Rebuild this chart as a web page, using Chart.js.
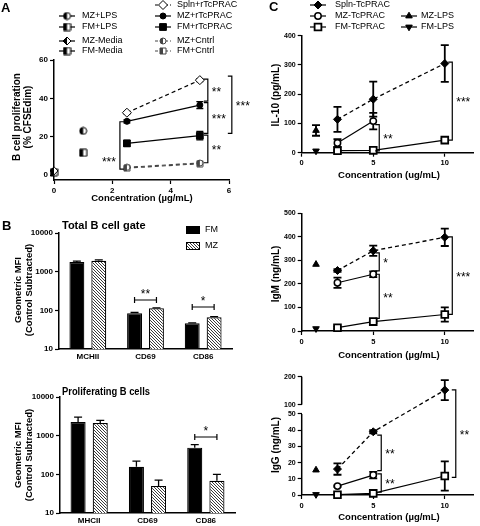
<!DOCTYPE html>
<html>
<head>
<meta charset="utf-8">
<script src="https://cdn.jsdelivr.net/npm/chart.js@4.4.0/dist/chart.umd.min.js"></script>
<style>
  html, body { margin: 0; padding: 0; background: #fff; }
  #fig { position: relative; width: 480px; height: 526px; overflow: hidden; }
  #fig canvas { position: absolute; }
</style>
</head>
<body>
<div id="fig">
  <canvas id="cA"  width="255" height="215" style="left:0;top:0;width:255px;height:215px"></canvas>
  <canvas id="cB1" width="240" height="155" style="left:0;top:215px;width:240px;height:155px"></canvas>
  <canvas id="cB2" width="240" height="151" style="left:0;top:375px;width:240px;height:151px"></canvas>
  <canvas id="cC1" width="230" height="185" style="left:250px;top:0;width:230px;height:185px"></canvas>
  <canvas id="cC2" width="230" height="175" style="left:250px;top:190px;width:230px;height:175px"></canvas>
  <canvas id="cC3" width="230" height="161" style="left:250px;top:365px;width:230px;height:161px"></canvas>
</div>
<script>
// ---- fonts ----
const FONT = '"Liberation Sans", Arial, sans-serif';

// ---- Panel A: B cell proliferation (% CFSEdim) ----
const A_CONC       = [2.5, 5];
const A_SPLN_R     = [32.5, 49.5];
const A_SPLN_R_SD  = [0.6, 0.8];
const A_MZ_R       = [28, 36.5];
const A_MZ_R_SD    = [0.8, 1.8];
const A_FM_R       = [16.5, 20.5];
const A_FM_R_SD    = [1.6, 2.2];
const A_MZ_CNTRL   = [4, 6.3];
const A_FM_CNTRL   = [3.6, 5.9];
const A_LPS_CONC   = [1];
const A_MZ_LPS     = [23];
const A_FM_LPS     = [11.6];
const A_MEDIA_CONC = [0];
const A_MZ_MEDIA   = [2.2];
const A_FM_MEDIA   = [1.5];
const A_X_TICKS    = [0, 2, 4, 6];
const A_Y_TICKS    = [0, 20, 40, 60];

// ---- Panel B: geometric MFI ----
const B_CATS_TOP   = ["MCHII", "CD69", "CD86"];
const B_FM_TOP     = [1780, 84, 46];
const B_FM_TOP_SD  = [90, 4, 1.5];
const B_MZ_TOP     = [1920, 113, 66];
const B_MZ_TOP_SD  = [110, 3, 3];
const B_CATS_BOT   = ["MHCII", "CD69", "CD86"];
const B_FM_BOT     = [2250, 156, 490];
const B_FM_BOT_SD  = [750, 63, 95];
const B_MZ_BOT     = [2130, 50, 68];
const B_MZ_BOT_SD  = [370, 21, 32];
const B_Y_TICKS    = [10, 100, 1000, 10000];

// ---- Panel C: IL-10 / IgM / IgG ----
const C_CONC       = [2.5, 5, 10];
const C_MZ_CONC    = [2.5, 5];
const C_LPS_CONC   = [1];
const C_X_TICKS    = [0, 5, 10];

const IL10_SPLN    = [114, 183, 305];
const IL10_SPLN_SD = [43, 60, 63];
const IL10_MZ      = [33, 108];
const IL10_MZ_SD   = [13, 28];
const IL10_FM      = [7, 8, 43];
const IL10_FM_SD   = [2, 2, 5];
const IL10_MZ_LPS  = [76];
const IL10_MZ_LPS_SD = [18];
const IL10_FM_LPS  = [6];
const IL10_Y_TICKS = [0, 100, 200, 300, 400];

const IGM_SPLN     = [257, 341, 398];
const IGM_SPLN_SD  = [6, 22, 37];
const IGM_MZ       = [205, 241];
const IGM_MZ_SD    = [22, 12];
const IGM_FM       = [14, 40, 70];
const IGM_FM_SD    = [5, 6, 30];
const IGM_MZ_LPS   = [283];
const IGM_FM_LPS   = [10];
const IGM_Y_TICKS  = [0, 100, 200, 300, 400, 500];

const IGG_SPLN     = [16, 39, 152];
const IGG_SPLN_SD  = [3.5, 1, 36];
const IGG_MZ       = [5.5, 12.3];
const IGG_MZ_SD    = [0.5, 2];
const IGG_FM       = [0.2, 1, 11.7];
const IGG_FM_SD    = [0.2, 0.5, 9];
const IGG_MZ_LPS   = [15.4];
const IGG_FM_LPS   = [0.3];
const IGG_Y_TICKS  = [0, 10, 20, 30, 40, 50, 100, 200];

// ---- IgG axis break (fractions of the plot height) ----
const BREAK = { lowMax: 50, highMin: 100, top: 200, lowFrac: 0.685, highFrac: 0.764 };

function brokenFrac(v) {
  if (v <= BREAK.lowMax) return v / BREAK.lowMax * BREAK.lowFrac;
  if (v >= BREAK.highMin) return BREAK.highFrac + (v - BREAK.highMin) / (BREAK.top - BREAK.highMin) * (1 - BREAK.highFrac);
  return BREAK.lowFrac + (v - BREAK.lowMax) / (BREAK.highMin - BREAK.lowMax) * (BREAK.highFrac - BREAK.lowFrac);
}
function brokenInv(f) {
  if (f <= BREAK.lowFrac) return f / BREAK.lowFrac * BREAK.lowMax;
  if (f >= BREAK.highFrac) return BREAK.highMin + (f - BREAK.highFrac) / (1 - BREAK.highFrac) * (BREAK.top - BREAK.highMin);
  return BREAK.lowMax + (f - BREAK.lowFrac) / (BREAK.highFrac - BREAK.lowFrac) * (BREAK.highMin - BREAK.lowMax);
}

// linear scale with a gap between 50 and 100
class BrokenScale extends Chart.LinearScale {
  getPixelForValue(v) { return this.bottom - brokenFrac(v) * (this.bottom - this.top); }
  getValueForPixel(p) { return brokenInv((this.bottom - p) / (this.bottom - this.top)); }
}
BrokenScale.id = "brokenLinear";
BrokenScale.defaults = Chart.LinearScale.defaults;
Chart.register(BrokenScale);

// ---- marker helpers ----
function halfImg(shape, size, color) {
  const c = document.createElement("canvas");
  c.width = c.height = size + 2;
  const g = c.getContext("2d");
  const m = (size + 2) / 2, h = size / 2;
  const path = () => {
    g.beginPath();
    if (shape === "circle") g.arc(m, m, h, 0, Math.PI * 2);
    else if (shape === "diamond") { g.moveTo(m, m - h); g.lineTo(m + h, m); g.lineTo(m, m + h); g.lineTo(m - h, m); g.closePath(); }
    else g.rect(m - h, m - h, size, size);
  };
  path(); g.fillStyle = "#fff"; g.fill();
  g.save(); g.beginPath(); g.rect(0, 0, m, size + 2); g.clip();
  path(); g.fillStyle = color; g.fill(); g.restore();
  path(); g.strokeStyle = color; g.lineWidth = 1; g.stroke();
  return c;
}

function hatch() {
  const c = document.createElement("canvas");
  c.width = c.height = 3;
  const g = c.getContext("2d");
  g.fillStyle = "#fff"; g.fillRect(0, 0, 3, 3);
  g.fillStyle = "#3a3a3a";
  for (let i = 0; i < 3; i++) g.fillRect(i, i, 1, 1);
  return g.createPattern(c, "repeat");
}
const HATCH = hatch();

const MK = {
  A_SPLN:   { style: "rectRot", r: 4.5, fill: "#fff", stroke: "#000", lw: 1 },
  A_MZ_R:   { style: "circle", r: 3, fill: "#000", stroke: "#000", lw: 1 },
  A_FM_R:   { style: "rect", r: 4.8, fill: "#000", stroke: "#000", lw: 1 },
  A_MZ_C:   { img: halfImg("circle", 6, "#444"), r: 4 },
  A_FM_C:   { img: halfImg("rect", 6, "#444"), r: 4 },
  A_MZ_L:   { img: halfImg("circle", 7, "#000"), r: 4 },
  A_FM_L:   { img: halfImg("rect", 7, "#000"), r: 4 },
  A_MZ_M:   { img: halfImg("diamond", 8, "#000"), r: 4 },
  A_FM_M:   { img: halfImg("rect", 7, "#000"), r: 4 },
  C_SPLN:   { style: "rectRot", r: 4, fill: "#000", stroke: "#000", lw: 1 },
  C_MZ:     { style: "circle", r: 3.2, fill: "#fff", stroke: "#000", lw: 1.5 },
  C_FM:     { style: "rect", r: 4.8, fill: "#fff", stroke: "#000", lw: 1.8 },
  C_MZ_LPS: { style: "triangle", r: 3.8, fill: "#000", stroke: "#000", lw: 1 },
  C_FM_LPS: { style: "triangle", r: 3.8, rot: 180, fill: "#000", stroke: "#000", lw: 1 }
};

function markerProps(m) {
  return {
    pointStyle: m.img || m.style, pointRadius: m.r, pointHoverRadius: m.r,
    pointBackgroundColor: m.fill || "#000", pointBorderColor: m.stroke || "#000",
    pointBorderWidth: m.lw || 1, pointRotation: m.rot || 0
  };
}

// same shapes as Chart.js, for the legends
function drawMarker(ctx, m, x, y) {
  if (m.img) { ctx.drawImage(m.img, x - m.img.width / 2, y - m.img.height / 2); return; }
  const r = m.r;
  ctx.save();
  ctx.fillStyle = m.fill; ctx.strokeStyle = m.stroke; ctx.lineWidth = m.lw;
  ctx.beginPath();
  if (m.style === "circle") ctx.arc(x, y, r, 0, Math.PI * 2);
  else if (m.style === "rect") { const s = Math.SQRT1_2 * r; ctx.rect(x - s, y - s, 2 * s, 2 * s); }
  else if (m.style === "rectRot") { ctx.moveTo(x - r, y); ctx.lineTo(x, y - r); ctx.lineTo(x + r, y); ctx.lineTo(x, y + r); ctx.closePath(); }
  else if (m.style === "triangle") {
    let a = (m.rot || 0) * Math.PI / 180;
    ctx.moveTo(x + Math.sin(a) * r, y - Math.cos(a) * r);
    a += 2 * Math.PI / 3; ctx.lineTo(x + Math.sin(a) * r, y - Math.cos(a) * r);
    a += 2 * Math.PI / 3; ctx.lineTo(x + Math.sin(a) * r, y - Math.cos(a) * r);
    ctx.closePath();
  }
  ctx.fill(); ctx.stroke();
  ctx.restore();
}

// ---- dataset builders ----
function series(xs, ys, sd, mk, o = {}) {
  return {
    data: xs.map((x, i) => ({ x: x, y: ys[i] })),
    sd: sd, sdWidth: o.sdWidth || 1.3, sdCap: o.sdCap || 3.5,
    borderColor: o.color || "#000", borderWidth: o.lw || 1.2, borderDash: o.dash || [],
    showLine: true, fill: false, tension: 0, clip: false,
    ...markerProps(mk)
  };
}
function bars(vals, sd, fill) {
  return {
    data: vals, sd: sd, sdUp: true, sdWidth: 1.3, sdCap: 4,
    backgroundColor: fill, borderColor: "#000", borderWidth: 1.2,
    categoryPercentage: 0.76, barPercentage: 0.68
  };
}

// ---- axes ----
const tickFont = (s) => ({ family: FONT, size: s, weight: "bold" });
function yAxis(o) {
  return {
    type: o.type || "linear", min: o.min, max: o.max,
    border: { display: o.border !== false, color: "#000", width: 1.5 },
    grid: { display: true, drawOnChartArea: false, drawTicks: true, tickLength: 4, tickColor: "#000", tickWidth: 1.2 },
    ticks: { color: "#000", padding: 2, autoSkip: false, font: tickFont(o.fs || 8), callback: v => String(v) },
    afterBuildTicks: s => { s.ticks = o.ticks.map(v => ({ value: v })); },
    afterFit: s => { s.width = o.w; }
  };
}
function xLinear(o) {
  return {
    type: "linear", min: o.min, max: o.max,
    border: { color: "#000", width: 1.5 },
    grid: { display: true, drawOnChartArea: false, drawTicks: true, tickLength: 4, tickColor: "#000", tickWidth: 1.2 },
    ticks: { color: "#000", padding: 2, autoSkip: false, maxRotation: 0, font: tickFont(o.fs || 8), callback: v => String(v) },
    afterBuildTicks: s => { s.ticks = o.ticks.map(v => ({ value: v })); },
    afterFit: s => { s.height = o.h; }
  };
}
function xCategory(h) {
  return {
    type: "category", offset: true,
    border: { color: "#000", width: 1.5 },
    grid: { display: false, drawTicks: false, tickLength: 0 },
    ticks: { color: "#000", padding: 3, maxRotation: 0, font: tickFont(8) },
    afterFit: s => { s.height = h; }
  };
}

// ---- error bars plugin ----
const errorBars = {
  id: "errorBars",
  beforeDatasetsDraw(chart) {
    const ctx = chart.ctx;
    chart.data.datasets.forEach((ds, i) => {
      if (!ds.sd) return;
      const meta = chart.getDatasetMeta(i);
      const ys = chart.scales[meta.yAxisID];
      ctx.save();
      ctx.strokeStyle = "#000"; ctx.lineWidth = ds.sdWidth;
      meta.data.forEach((el, j) => {
        const sd = ds.sd[j];
        if (!sd) return;
        const v = meta.controller.getParsed(j).y;
        const top = ys.getPixelForValue(v + sd);
        const bot = ds.sdUp ? ys.getPixelForValue(v) : ys.getPixelForValue(v - sd);
        const x = el.x, w = ds.sdCap;
        ctx.beginPath();
        ctx.moveTo(x, bot); ctx.lineTo(x, top);
        ctx.moveTo(x - w, top); ctx.lineTo(x + w, top);
        if (!ds.sdUp) { ctx.moveTo(x - w, bot); ctx.lineTo(x + w, bot); }
        ctx.stroke();
      });
      ctx.restore();
    });
  }
};

// ---- decoration plugin: labels, legends, significance brackets ----
function drawText(ctx, t) {
  ctx.save();
  ctx.font = t.font; ctx.fillStyle = "#000";
  ctx.textAlign = t.align || "left"; ctx.textBaseline = "middle";
  ctx.translate(t.x, t.y);
  if (t.rot) ctx.rotate(t.rot);
  if (t.maxW) ctx.fillText(t.text, 0, 0, t.maxW); else ctx.fillText(t.text, 0, 0);
  ctx.restore();
}
function makeDecor(cfg) {
  return {
    id: "decor",
    afterDraw(chart) {
      const ctx = chart.ctx;
      const xs = chart.scales.x, ys = chart.scales.y;
      (cfg.texts || []).forEach(t => drawText(ctx, t));

      (cfg.legend || []).forEach(it => {
        if (it.line) {
          ctx.save();
          ctx.strokeStyle = it.line.color || "#000"; ctx.lineWidth = 1.2;
          ctx.setLineDash(it.line.dash || []);
          ctx.beginPath(); ctx.moveTo(it.x - 8, it.y); ctx.lineTo(it.x + 8, it.y); ctx.stroke();
          ctx.restore();
        }
        if (it.mk) drawMarker(ctx, it.mk, it.x, it.y);
        if (it.box) {
          ctx.save();
          ctx.fillStyle = it.box; ctx.fillRect(it.x - 6.5, it.y - 3.5, 13, 7);
          ctx.strokeStyle = "#000"; ctx.lineWidth = 1; ctx.strokeRect(it.x - 6.5, it.y - 3.5, 13, 7);
          ctx.restore();
        }
        drawText(ctx, { text: it.text, x: it.tx, y: it.y, font: "9px " + FONT });
      });

      ctx.save();
      ctx.strokeStyle = "#000"; ctx.fillStyle = "#000"; ctx.lineWidth = 1.2;
      ctx.font = "12px " + FONT; ctx.textBaseline = "middle";
      (cfg.vBrackets || []).forEach(b => {
        const bx = xs.getPixelForValue(b.x) + b.dx;
        const y1 = ys.getPixelForValue(b.y1), y2 = ys.getPixelForValue(b.y2);
        const d = b.dir * 4;
        ctx.beginPath();
        ctx.moveTo(bx + d, y1); ctx.lineTo(bx, y1); ctx.lineTo(bx, y2); ctx.lineTo(bx + d, y2);
        ctx.stroke();
        const ly = b.ly !== undefined ? ys.getPixelForValue(b.ly) : (y1 + y2) / 2;
        ctx.textAlign = b.dir < 0 ? "left" : "right";
        ctx.fillText(b.label, bx - b.dir * 4, ly + 2);
      });
      (cfg.hBrackets || []).forEach(b => {
        const xa = chart.getDatasetMeta(0).data[b.cat].x;
        const xb = chart.getDatasetMeta(1).data[b.cat].x;
        const py = ys.getPixelForValue(b.y);
        ctx.beginPath();
        ctx.moveTo(xa, py); ctx.lineTo(xb, py);
        ctx.moveTo(xa, py - 3); ctx.lineTo(xa, py + 3);
        ctx.moveTo(xb, py - 3); ctx.lineTo(xb, py + 3);
        ctx.stroke();
        ctx.textAlign = "center";
        ctx.fillText(b.label, (xa + xb) / 2, py - 5);
      });
      if (cfg.brokenAxis) {
        ctx.lineWidth = 1.5;
        cfg.brokenAxis.forEach(seg => {
          ctx.beginPath();
          ctx.moveTo(chart.chartArea.left, ys.getPixelForValue(seg[0]));
          ctx.lineTo(chart.chartArea.left, ys.getPixelForValue(seg[1]));
          ctx.stroke();
        });
      }
      ctx.restore();
    }
  };
}

function baseOptions(pad) {
  return {
    responsive: false, animation: false, events: [],
    layout: { padding: pad },
    plugins: { legend: { display: false }, tooltip: { enabled: false } }
  };
}

const ROT = -Math.PI / 2;
const T_BIG = "bold 13px " + FONT;
const T_AX = "bold 10px " + FONT;
const T_AXX = "bold 9.5px " + FONT;

// ================= Panel A =================
new Chart(document.getElementById("cA"), {
  type: "line",
  data: {
    datasets: [
      series(A_CONC, A_SPLN_R, A_SPLN_R_SD, MK.A_SPLN, { dash: [4, 3] }),
      series(A_CONC, A_MZ_R, A_MZ_R_SD, MK.A_MZ_R),
      series(A_CONC, A_FM_R, A_FM_R_SD, MK.A_FM_R),
      series(A_CONC, A_MZ_CNTRL, null, MK.A_MZ_C, { dash: [4, 3], color: "#444" }),
      series(A_CONC, A_FM_CNTRL, null, MK.A_FM_C, { dash: [4, 3], color: "#444" }),
      series(A_LPS_CONC, A_MZ_LPS, null, MK.A_MZ_L),
      series(A_LPS_CONC, A_FM_LPS, null, MK.A_FM_L),
      series(A_MEDIA_CONC, A_MZ_MEDIA, null, MK.A_MZ_M),
      series(A_MEDIA_CONC, A_FM_MEDIA, null, MK.A_FM_M)
    ]
  },
  options: {
    ...baseOptions({ left: 0, top: 60, right: 26, bottom: 0 }),
    scales: {
      x: xLinear({ min: 0, max: 6, ticks: A_X_TICKS, h: 35 }),
      y: yAxis({ min: -2.6, max: 60, ticks: A_Y_TICKS, w: 54 })
    }
  },
  plugins: [errorBars, makeDecor({
    texts: [
      { text: "A", x: 1, y: 8, font: T_BIG },
      { text: "B cell proliferation", x: 17, y: 117, rot: ROT, align: "center", font: T_AX },
      { text: "(% CFSEdim)", x: 28, y: 117, rot: ROT, align: "center", font: T_AX },
      { text: "Concentration (\u00b5g/mL)", x: 142, y: 198, align: "center", font: T_AXX }
    ],
    legend: [
      { x: 67, y: 16, tx: 82, text: "MZ+LPS", mk: MK.A_MZ_L, line: {} },
      { x: 67, y: 27, tx: 82, text: "FM+LPS", mk: MK.A_FM_L, line: {} },
      { x: 67, y: 41, tx: 82, text: "MZ-Media", mk: MK.A_MZ_M, line: {} },
      { x: 67, y: 51, tx: 82, text: "FM-Media", mk: MK.A_FM_M, line: {} },
      { x: 163, y: 5, tx: 177, text: "Spln+rTcPRAC", mk: MK.A_SPLN, line: { dash: [3, 2] } },
      { x: 163, y: 16, tx: 177, text: "MZ+rTcPRAC", mk: MK.A_MZ_R, line: {} },
      { x: 163, y: 27, tx: 177, text: "FM+rTcPRAC", mk: MK.A_FM_R, line: {} },
      { x: 163, y: 41, tx: 177, text: "MZ+Cntrl", mk: MK.A_MZ_C, line: { dash: [3, 2], color: "#444" } },
      { x: 163, y: 51, tx: 177, text: "FM+Cntrl", mk: MK.A_FM_C, line: { dash: [3, 2], color: "#444" } }
    ],
    vBrackets: [
      { x: 5, dx: 8, y1: 50, y2: 38.5, label: "**", dir: -1 },
      { x: 5, dx: 8, y1: 37.8, y2: 21.7, label: "***", dir: -1 },
      { x: 5, dx: 8, y1: 20.8, y2: 6.4, label: "**", dir: -1 },
      { x: 5, dx: 32, y1: 51.6, y2: 21.7, label: "***", dir: -1 },
      { x: 2.5, dx: -7, y1: 27.8, y2: 3.1, label: "***", dir: 1, ly: 7.3 }
    ]
  })]
});

// ================= Panel B (top) =================
new Chart(document.getElementById("cB1"), {
  type: "bar",
  data: {
    labels: B_CATS_TOP,
    datasets: [bars(B_FM_TOP, B_FM_TOP_SD, "#000"), bars(B_MZ_TOP, B_MZ_TOP_SD, HATCH)]
  },
  options: {
    ...baseOptions({ left: 0, top: 18, right: 8, bottom: 0 }),
    scales: {
      x: xCategory(21),
      y: yAxis({ type: "logarithmic", min: 10, max: 10000, ticks: B_Y_TICKS, w: 59 })
    }
  },
  plugins: [errorBars, makeDecor({
    texts: [
      { text: "B", x: 2, y: 11, font: T_BIG },
      { text: "Total B cell gate", x: 62, y: 11, font: "bold 11px " + FONT },
      { text: "Geometric MFI", x: 18, y: 75, rot: ROT, align: "center", font: "bold 9.5px " + FONT },
      { text: "(Control Subtracted)", x: 29, y: 75, rot: ROT, align: "center", font: "bold 9.5px " + FONT }
    ],
    legend: [
      { x: 193, y: 15, tx: 205, text: "FM", box: "#000" },
      { x: 193, y: 31, tx: 205, text: "MZ", box: HATCH }
    ],
    hBrackets: [
      { cat: 1, y: 185, label: "**" },
      { cat: 2, y: 122, label: "*" }
    ]
  })]
});

// ================= Panel B (bottom) =================
new Chart(document.getElementById("cB2"), {
  type: "bar",
  data: {
    labels: B_CATS_BOT,
    datasets: [bars(B_FM_BOT, B_FM_BOT_SD, "#000"), bars(B_MZ_BOT, B_MZ_BOT_SD, HATCH)]
  },
  options: {
    ...baseOptions({ left: 0, top: 22, right: 5, bottom: 0 }),
    scales: {
      x: xCategory(13),
      y: yAxis({ type: "logarithmic", min: 10, max: 10000, ticks: B_Y_TICKS, w: 60 })
    }
  },
  plugins: [errorBars, makeDecor({
    texts: [
      { text: "Proliferating B cells", x: 62, y: 17, font: "bold 11px " + FONT, maxW: 88 },
      { text: "Geometric MFI", x: 18, y: 80, rot: ROT, align: "center", font: "bold 9.5px " + FONT },
      { text: "(Control Subtracted)", x: 29, y: 80, rot: ROT, align: "center", font: "bold 9.5px " + FONT }
    ],
    hBrackets: [{ cat: 2, y: 925, label: "*" }]
  })]
});

// ================= Panel C =================
const cOpt = { sdWidth: 1.8, sdCap: 4 };
function cDatasets(spln, splnSd, mz, mzSd, fm, fmSd, mzL, mzLSd, fmL) {
  return [
    series(C_CONC, spln, splnSd, MK.C_SPLN, { ...cOpt, dash: [4, 3], lw: 1.3 }),
    series(C_MZ_CONC, mz, mzSd, MK.C_MZ, cOpt),
    series(C_CONC, fm, fmSd, MK.C_FM, cOpt),
    series(C_LPS_CONC, mzL, mzLSd, MK.C_MZ_LPS, cOpt),
    series(C_LPS_CONC, fmL, null, MK.C_FM_LPS, cOpt)
  ];
}

new Chart(document.getElementById("cC1"), {
  type: "line",
  data: { datasets: cDatasets(IL10_SPLN, IL10_SPLN_SD, IL10_MZ, IL10_MZ_SD, IL10_FM, IL10_FM_SD, IL10_MZ_LPS, IL10_MZ_LPS_SD, IL10_FM_LPS) },
  options: {
    ...baseOptions({ left: 0, top: 35.7, right: 2.4, bottom: 0 }),
    scales: {
      x: xLinear({ min: 0, max: 12, ticks: C_X_TICKS, h: 32.3, fs: 7.5 }),
      y: yAxis({ min: 0, max: 400, ticks: IL10_Y_TICKS, w: 51.7, fs: 7 })
    }
  },
  plugins: [errorBars, makeDecor({
    texts: [
      { text: "C", x: 19, y: 7, font: T_BIG },
      { text: "IL-10 (pg/mL)", x: 26, y: 95, rot: ROT, align: "center", font: T_AX },
      { text: "Concentration (ug/mL)", x: 139, y: 175, align: "center", font: T_AXX }
    ],
    legend: [
      { x: 68, y: 5, tx: 85, text: "Spln-TcPRAC", mk: MK.C_SPLN, line: {} },
      { x: 68, y: 16, tx: 85, text: "MZ-TcPRAC", mk: MK.C_MZ, line: {} },
      { x: 68, y: 27, tx: 85, text: "FM-TcPRAC", mk: MK.C_FM, line: {} },
      { x: 159, y: 16, tx: 171, text: "MZ-LPS", mk: MK.C_MZ_LPS, line: {} },
      { x: 159, y: 27, tx: 171, text: "FM-LPS", mk: MK.C_FM_LPS, line: {} }
    ],
    vBrackets: [
      { x: 5, dx: 6, y1: 96, y2: 6, label: "**", dir: -1 },
      { x: 10, dx: 7.5, y1: 310, y2: 43, label: "***", dir: -1 }
    ]
  })]
});

new Chart(document.getElementById("cC2"), {
  type: "line",
  data: { datasets: cDatasets(IGM_SPLN, IGM_SPLN_SD, IGM_MZ, IGM_MZ_SD, IGM_FM, IGM_FM_SD, IGM_MZ_LPS, null, IGM_FM_LPS) },
  options: {
    ...baseOptions({ left: 0, top: 23.3, right: 2.4, bottom: 0 }),
    scales: {
      x: xLinear({ min: 0, max: 12, ticks: C_X_TICKS, h: 34, fs: 7.5 }),
      y: yAxis({ min: 0, max: 500, ticks: IGM_Y_TICKS, w: 51.7, fs: 7 })
    }
  },
  plugins: [errorBars, makeDecor({
    texts: [
      { text: "IgM (ng/mL)", x: 26, y: 84, rot: ROT, align: "center", font: T_AX },
      { text: "Concentration (\u00b5g/mL)", x: 139, y: 165, align: "center", font: T_AXX }
    ],
    vBrackets: [
      { x: 5, dx: 6, y1: 332, y2: 255, label: "*", dir: -1 },
      { x: 5, dx: 6, y1: 241, y2: 54, label: "**", dir: -1 },
      { x: 10, dx: 7.5, y1: 400, y2: 71, label: "***", dir: -1 }
    ]
  })]
});

new Chart(document.getElementById("cC3"), {
  type: "line",
  data: { datasets: cDatasets(IGG_SPLN, IGG_SPLN_SD, IGG_MZ, IGG_MZ_SD, IGG_FM, IGG_FM_SD, IGG_MZ_LPS, null, IGG_FM_LPS) },
  options: {
    ...baseOptions({ left: 0, top: 11.7, right: 2.4, bottom: 0 }),
    scales: {
      x: xLinear({ min: 0, max: 12, ticks: C_X_TICKS, h: 31, fs: 7.5 }),
      y: yAxis({ type: "brokenLinear", min: 0, max: 200, ticks: IGG_Y_TICKS, w: 51.7, fs: 7, border: false })
    }
  },
  plugins: [errorBars, makeDecor({
    texts: [
      { text: "IgG (ng/mL)", x: 26, y: 80, rot: ROT, align: "center", font: T_AX },
      { text: "Concentration (\u00b5g/mL)", x: 139, y: 152, align: "center", font: T_AXX }
    ],
    vBrackets: [
      { x: 5, dx: 8, y1: 37, y2: 15, label: "**", dir: -1 },
      { x: 5, dx: 8, y1: 13, y2: 1.7, label: "**", dir: -1 },
      { x: 10, dx: 11, y1: 152.5, y2: 10.9, label: "**", dir: -1 }
    ],
    brokenAxis: [[0, 50], [100, 200]]
  })]
});
</script>
</body>
</html>
